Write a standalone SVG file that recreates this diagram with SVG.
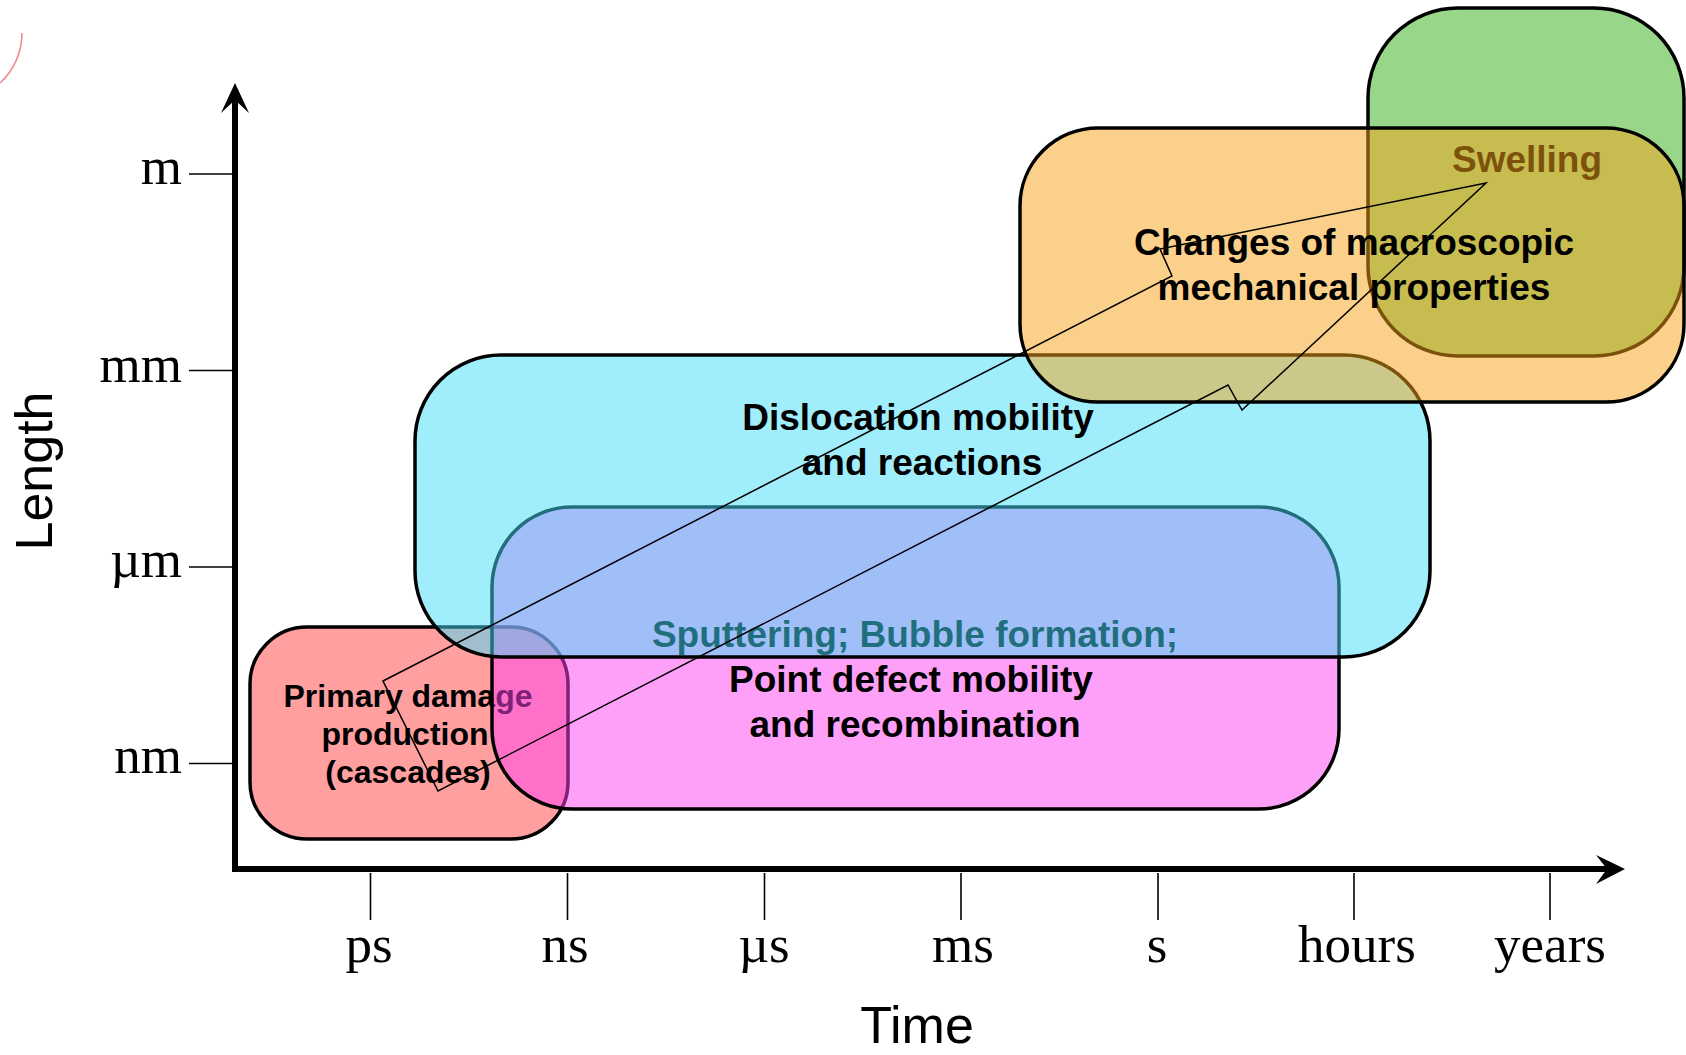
<svg xmlns="http://www.w3.org/2000/svg" width="1686" height="1055" viewBox="0 0 1686 1055">
<style>
.box{stroke:#000;stroke-width:3.5;fill-opacity:0.5}
.lbl{font-family:"Liberation Sans",Arial,sans-serif;font-weight:bold;fill:#000;text-anchor:middle}
.big{font-size:37px}
.small{font-size:32px}
.tick{stroke:#000;stroke-width:1.6;fill:none}
.unit{font-family:"Liberation Serif","Times New Roman",serif;font-size:53px;fill:#000}
.axtitle{font-family:"Liberation Sans",Arial,sans-serif;font-size:52px;fill:#000;text-anchor:middle}
</style>
<rect width="1686" height="1055" fill="#fff"/>
<path d="M0 83 A68 68 0 0 0 22 33" fill="none" stroke="#f08a8a" stroke-width="1.6"/>

<g id="axes">
<polyline points="235,100 235,869 1608,869" fill="none" stroke="#000" stroke-width="6" stroke-linejoin="miter"/>
<polygon points="235,83 249,113 235,100 221,113" fill="#000"/>
<polygon points="1625,869 1596,884 1607,869 1596,855" fill="#000"/>
<g class="tick">
<line x1="189" y1="174" x2="232" y2="174"/>
<line x1="189" y1="370.5" x2="232" y2="370.5"/>
<line x1="189" y1="567" x2="232" y2="567"/>
<line x1="189" y1="763.5" x2="232" y2="763.5"/>
<line x1="370.5" y1="873" x2="370.5" y2="920"/>
<line x1="567.5" y1="873" x2="567.5" y2="920"/>
<line x1="764.5" y1="873" x2="764.5" y2="920"/>
<line x1="961" y1="873" x2="961" y2="920"/>
<line x1="1158" y1="873" x2="1158" y2="920"/>
<line x1="1354" y1="873" x2="1354" y2="920"/>
<line x1="1550" y1="873" x2="1550" y2="920"/>
</g>
<g class="unit" text-anchor="end">
<text x="182" y="184">m</text>
<text x="182" y="382">mm</text>
<text x="182" y="577">µm</text>
<text x="182" y="773">nm</text>
</g>
<g class="unit" text-anchor="middle">
<text x="369" y="962">ps</text>
<text x="565" y="962">ns</text>
<text x="764" y="962">µs</text>
<text x="963" y="962">ms</text>
<text x="1157" y="962">s</text>
<text x="1357" y="962">hours</text>
<text x="1550" y="962">years</text>
</g>
<text class="axtitle" x="917" y="1043">Time</text>
<text class="axtitle" transform="translate(52,471) rotate(-90)">Length</text>
</g>

<g id="swelling">
<rect class="box" x="1368" y="8" width="316" height="348" rx="90" ry="90" fill="#31ad15"/>
<text class="lbl big" x="1527" y="172">Swelling</text>
</g>

<g id="primary-damage">
<rect class="box" x="250" y="627" width="318" height="212" rx="57" ry="57" fill="#ff4040"/>
<text class="lbl small" x="408" y="707">Primary damage</text>
<text class="lbl small" x="405" y="745">production</text>
<text class="lbl small" x="408" y="783">(cascades)</text>
</g>

<g id="point-defect">
<rect class="box" x="492" y="507" width="847" height="302" rx="80" ry="80" fill="#ff42f2"/>
<text class="lbl big" x="915" y="647">Sputtering; Bubble formation;</text>
<text class="lbl big" x="911" y="692">Point defect mobility</text>
<text class="lbl big" x="915" y="737">and recombination</text>
</g>

<g id="dislocation">
<rect class="box" x="415" y="355" width="1015" height="302" rx="86" ry="86" fill="#41ddf9"/>
<text class="lbl big" x="918" y="430">Dislocation mobility</text>
<text class="lbl big" x="922" y="475">and reactions</text>
</g>

<g id="macroscopic">
<rect class="box" x="1020" y="128" width="664" height="274" rx="78" ry="78" fill="#f5a115"/>
<text class="lbl big" x="1354" y="255">Changes of macroscopic</text>
<text class="lbl big" x="1354" y="300">mechanical properties</text>
</g>

<g id="connectors">
<polygon points="383,681 1172,276 1160,249 1486,183 1242,410 1228,385 438,791" fill="none" stroke="#000" stroke-width="1.5" stroke-linejoin="miter"/>
</g>
</svg>
